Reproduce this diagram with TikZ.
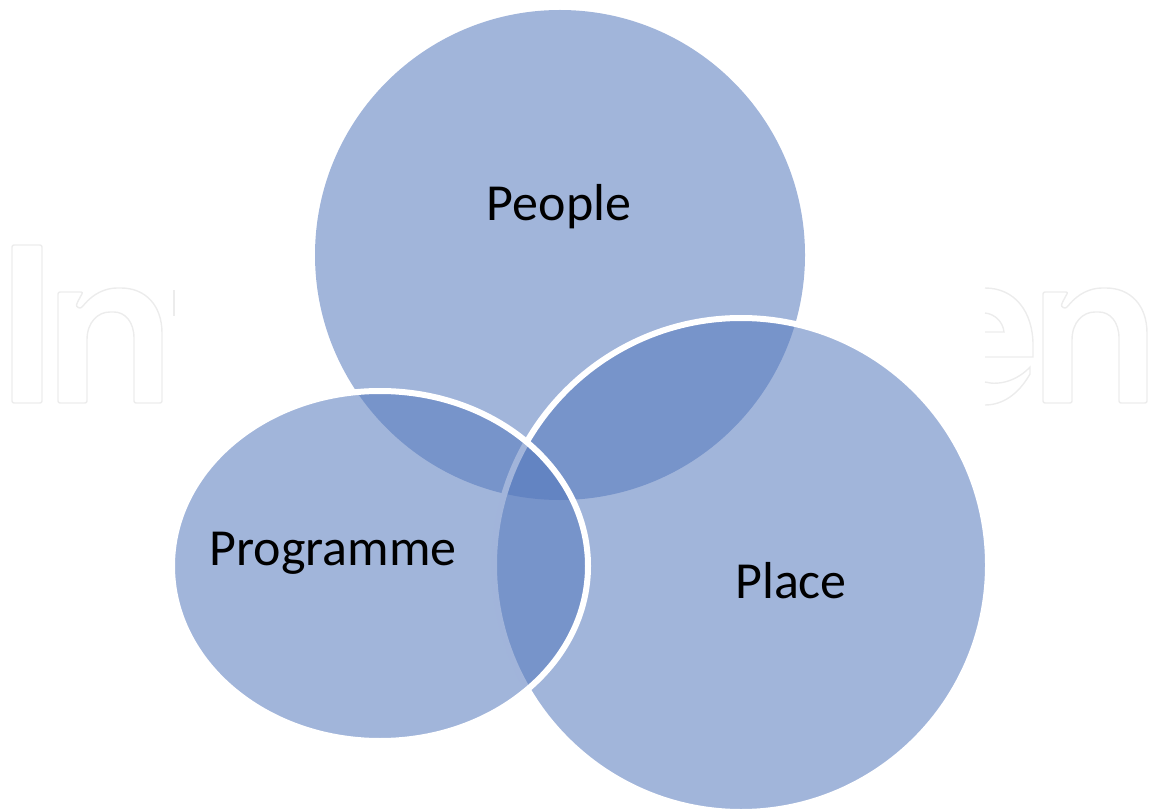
\documentclass[tikz,border=0pt]{standalone}
\usepackage{fontspec}
\setmainfont{Carlito}
\usetikzlibrary{shapes.geometric}
\definecolor{vennblue}{RGB}{84,120,188}
\definecolor{wmgray}{RGB}{236,236,236}
\tikzset{
  venn/.style={fill=vennblue, fill opacity=0.55, draw opacity=1, inner sep=0pt, outer sep=0pt},
  rim/.style={draw=white, line width=6pt},
  lbl/.style={font=\fontsize{52}{60}\selectfont, text=black, anchor=base, inner sep=0pt},
  wm/.style={draw=wmgray, line width=1.4pt, rounded corners=2pt},
  wmn/.pic={
    \draw[wm] (0,115) -- (0,4) -- (25,4) -- (19,15) .. controls (18,19) and (22,21) .. (25,18)
      .. controls (35,6) and (47,0) .. (61,0) .. controls (87,0) and (104,17) .. (104,47)
      -- (104,115) -- (76,115) -- (76,52) .. controls (76,34) and (67,24) .. (54,24)
      .. controls (40,24) and (29,34) .. (29,54) -- (29,115) -- cycle;
  }
}
\begin{document}
\begin{tikzpicture}[x=1pt,y=-1pt]
\useasboundingbox (0,0) rectangle (1151,810);
% watermark remnants
\draw[wm] (12,245) rectangle (42,403);
\pic at (58,288) {wmn};
\draw[wm] (174,290) -- (174,316);
\pic at (1043,288) {wmn};
\draw[wm, rounded corners=0pt] (985,288) .. controls (1015,288) and (1033,312) .. (1033,345) -- (1033,357) -- (985,357);
\draw[wm, rounded corners=0pt] (985,313) .. controls (995,314) and (1003,322) .. (1004,332) -- (985,332);
\draw[wm, rounded corners=0pt] (985,382) .. controls (1000,386) and (1018,380) .. (1030,367) -- (1030,374) .. controls (1018,395) and (1002,405) .. (985,405);
% circles
\node[venn, circle, minimum size=490pt] (people) at (560,255) {};
\node[venn, rim, circle, minimum size=494pt] (place) at (741,565) {};
\node[venn, rim, ellipse, minimum width=416pt, minimum height=350pt] (programme) at (380,566) {};
% labels
\node[lbl] (lpeople) at (559,221) {People};
\node[lbl] (lprog) at (333,565) {Programme};
\node[lbl] (lplace) at (791,598) {Place};
\end{tikzpicture}
\end{document}
